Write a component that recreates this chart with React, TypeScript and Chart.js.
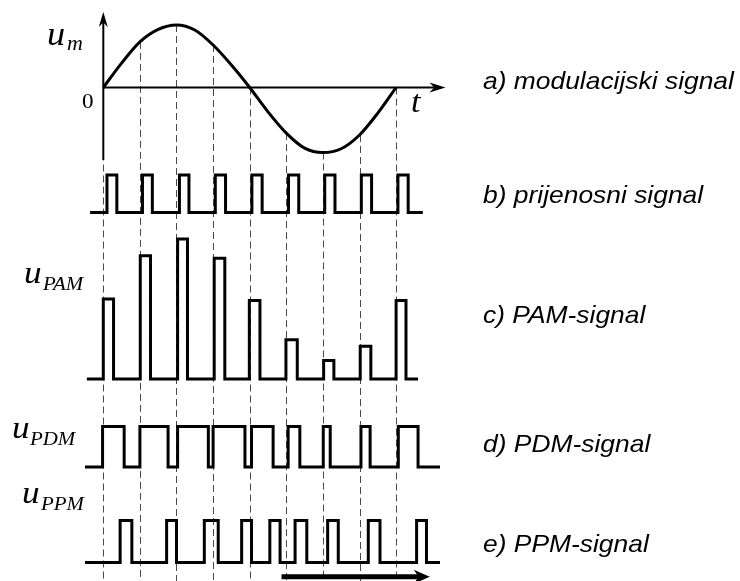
import { useEffect, useRef } from "react";
import { Chart, registerables } from "chart.js";

Chart.register(...registerables);

// ---------------- data (time in sampling periods, amplitudes in panel units) ----------------
const sampleTimes = [0, 1, 2, 3, 4, 5, 6, 7, 8];

const sineT = [0, 0.5, 1, 1.5, 2, 2.5, 3, 3.5, 4, 4.5, 5, 5.5, 6, 6.5, 7, 7.5, 8];
const sineV = [0, 0.39, 0.73, 0.93, 1.0, 0.92, 0.68, 0.36, 0, -0.39, -0.73, -0.97, -1.04, -0.98, -0.76, -0.41, 0];

const carrierRise = [0.1, 1.07, 2.08, 3.06, 4.06, 5.06, 6.05, 7.05, 8.05];
const carrierFall = [0.37, 1.34, 2.34, 3.34, 4.34, 5.34, 6.33, 7.33, 8.33];
const carrierSpan = [-0.36, 8.73];

const pamRise = [0.0, 1.01, 2.03, 3.03, 3.99, 4.99, 6.02, 7.02, 8.0];
const pamFall = [0.28, 1.29, 2.3, 3.32, 4.28, 5.3, 6.3, 7.31, 8.27];
const pamHeight = [1.0, 1.54, 1.75, 1.51, 0.98, 0.49, 0.23, 0.41, 0.98];
const pamSpan = [-0.45, 8.6];

const pdmRise = [-0.02, 1.0, 2.03, 3.0, 4.05, 5.05, 6.01, 7.04, 8.06];
const pdmFall = [0.57, 1.77, 2.87, 3.87, 4.64, 5.37, 6.2, 7.29, 8.6];
const pdmSpan = [-0.5, 9.2];

const ppmRise = [0.46, 1.73, 2.76, 3.78, 4.55, 5.24, 6.13, 7.24, 8.56];
const ppmFall = [0.78, 2.0, 3.14, 4.05, 4.83, 5.56, 6.42, 7.56, 8.83];
const ppmSpan = [-0.5, 9.2];

const rightLabels = ["a) modulacijski signal", "b) prijenosni signal", "c) PAM-signal", "d) PDM-signal", "e) PPM-signal"];

// ---------------- layout ----------------
const W = 740;
const H = 581;
const T0_PX = 103.3;
const PX_PER_T = 36.6;

const PANELS: Record<string, { zero: number; unit: number }> = {
  ySine: { zero: 87.5, unit: 62.5 },
  yCar: { zero: 212.5, unit: 37.5 },
  yPam: { zero: 379, unit: 80 },
  yPdm: { zero: 467, unit: 40.5 },
  yPpm: { zero: 562.5, unit: 42 },
};

const AXIS_TOP = 1.21;
const AXIS_BOTTOM = -1.16;
const T_AXIS_END = 9.35;
const ARROW_FROM = 4.87;
const ARROW_TO = 8.92;
const ARROW_LEVEL = -0.34;

function pulseTrain(rise: number[], fall: number[], heights: number[] | number, span: number[]) {
  const pts: { x: number; y: number }[] = [{ x: span[0], y: 0 }];
  rise.forEach((r, i) => {
    const h = Array.isArray(heights) ? heights[i] : heights;
    pts.push({ x: r, y: 0 }, { x: r, y: h }, { x: fall[i], y: h }, { x: fall[i], y: 0 });
  });
  pts.push({ x: span[1], y: 0 });
  return pts;
}

function axisRange(id: string) {
  const p = PANELS[id];
  return { min: (p.zero - H) / p.unit, max: p.zero / p.unit };
}

function drawText(ctx: CanvasRenderingContext2D, text: string, x: number, y: number, font: string, sx = 1.1) {
  ctx.save();
  ctx.font = font;
  ctx.fillStyle = "#000";
  ctx.textBaseline = "alphabetic";
  ctx.textAlign = "left";
  ctx.translate(x, y);
  ctx.scale(sx, 1);
  ctx.fillText(text, 0, 0);
  ctx.restore();
}

function arrowHead(ctx: CanvasRenderingContext2D, tipX: number, tipY: number, dx: number, dy: number, len: number, half: number) {
  const bx = tipX - dx * len;
  const by = tipY - dy * len;
  const nx = -dy;
  const ny = dx;
  ctx.beginPath();
  ctx.moveTo(tipX, tipY);
  ctx.lineTo(bx + nx * half, by + ny * half);
  ctx.lineTo(tipX - dx * len * 0.7, tipY - dy * len * 0.7);
  ctx.lineTo(bx - nx * half, by - ny * half);
  ctx.closePath();
  ctx.fill();
}

const diagramPlugin = {
  id: "diagram",
  beforeDatasetsDraw(chart: any) {
    const ctx: CanvasRenderingContext2D = chart.ctx;
    const xs = chart.scales.x;
    const ys = chart.scales.ySine;
    ctx.save();
    ctx.strokeStyle = "#4a4a4a";
    ctx.lineWidth = 1;
    ctx.setLineDash([7, 4]);
    sampleTimes.forEach((t) => {
      const idx = sineT.indexOf(t);
      const v = idx >= 0 ? sineV[idx] : 0;
      const x = Math.round(xs.getPixelForValue(t)) + 0.5;
      ctx.beginPath();
      ctx.moveTo(x, ys.getPixelForValue(v));
      ctx.lineTo(x, chart.chartArea.bottom);
      ctx.stroke();
    });
    ctx.restore();
  },
  afterDatasetsDraw(chart: any) {
    const ctx: CanvasRenderingContext2D = chart.ctx;
    const xs = chart.scales.x;
    const ys = chart.scales.ySine;
    const yp = chart.scales.yPpm;
    ctx.save();
    ctx.strokeStyle = "#000";
    ctx.fillStyle = "#000";
    ctx.lineWidth = 2;
    // vertical axis
    const x0 = xs.getPixelForValue(0);
    const yTop = ys.getPixelForValue(AXIS_TOP);
    ctx.beginPath();
    ctx.moveTo(x0, ys.getPixelForValue(AXIS_BOTTOM));
    ctx.lineTo(x0, yTop + 8);
    ctx.stroke();
    arrowHead(ctx, x0, yTop, 0, -1, 15, 4.5);
    // horizontal axis
    const y0 = ys.getPixelForValue(0);
    const xEnd = xs.getPixelForValue(T_AXIS_END);
    ctx.beginPath();
    ctx.moveTo(x0, y0);
    ctx.lineTo(xEnd - 8, y0);
    ctx.stroke();
    arrowHead(ctx, xEnd, y0, 1, 0, 16, 5);
    // bottom arrow
    const ay = yp.getPixelForValue(ARROW_LEVEL);
    const ax1 = xs.getPixelForValue(ARROW_FROM);
    const ax2 = xs.getPixelForValue(ARROW_TO);
    ctx.lineWidth = 5;
    ctx.beginPath();
    ctx.moveTo(ax1, ay);
    ctx.lineTo(ax2 - 10, ay);
    ctx.stroke();
    arrowHead(ctx, ax2, ay, 1, 0, 16, 7);
    ctx.restore();

    // texts
    const serifI = (s: number) => `italic ${s}px "Liberation Serif", "Times New Roman", serif`;
    const sansI = `italic 24px "Liberation Sans", Arial, sans-serif`;
    drawText(ctx, "u", 47, 45, serifI(33));
    drawText(ctx, "m", 67, 50, serifI(20));
    drawText(ctx, "0", 82, 108, `22px "Liberation Serif", "Times New Roman", serif`, 1.05);
    drawText(ctx, "t", 411, 112, serifI(31));
    drawText(ctx, "u", 24, 283, serifI(32));
    drawText(ctx, "PAM", 43, 290, serifI(19));
    drawText(ctx, "u", 12, 438, serifI(32));
    drawText(ctx, "PDM", 30, 445, serifI(19));
    drawText(ctx, "u", 22, 503, serifI(32));
    drawText(ctx, "PPM", 41, 510, serifI(19));
    const baselines = [89, 203, 323, 452, 552];
    rightLabels.forEach((txt, i) => drawText(ctx, txt, 483, baselines[i], sansI, 1.1));
  },
};

export default function App() {
  const ref = useRef<HTMLCanvasElement | null>(null);

  useEffect(() => {
    if (!ref.current) return;
    const lineStyle = {
      borderColor: "#000",
      borderWidth: 3,
      pointRadius: 0,
      tension: 0,
      fill: false,
      borderJoinStyle: "miter" as const,
      borderCapStyle: "butt" as const,
    };
    const yScale = (id: string) => ({ type: "linear" as const, display: false, ...axisRange(id) });
    const chart = new Chart(ref.current, {
      type: "line",
      data: {
        datasets: [
          {
            label: "modulacijski signal",
            data: sineT.map((t, i) => ({ x: t, y: sineV[i] })),
            yAxisID: "ySine",
            ...lineStyle,
            cubicInterpolationMode: "monotone",
          },
          { label: "prijenosni signal", data: pulseTrain(carrierRise, carrierFall, 1, carrierSpan), yAxisID: "yCar", ...lineStyle },
          { label: "PAM", data: pulseTrain(pamRise, pamFall, pamHeight, pamSpan), yAxisID: "yPam", ...lineStyle },
          { label: "PDM", data: pulseTrain(pdmRise, pdmFall, 1, pdmSpan), yAxisID: "yPdm", ...lineStyle },
          { label: "PPM", data: pulseTrain(ppmRise, ppmFall, 1, ppmSpan), yAxisID: "yPpm", ...lineStyle },
        ] as any,
      },
      options: {
        animation: false,
        responsive: false,
        devicePixelRatio: 1,
        events: [],
        layout: { padding: 0 },
        plugins: { legend: { display: false }, tooltip: { enabled: false }, title: { display: false } },
        scales: {
          x: { type: "linear", display: false, min: -T0_PX / PX_PER_T, max: (W - T0_PX) / PX_PER_T },
          ySine: yScale("ySine"),
          yCar: yScale("yCar"),
          yPam: yScale("yPam"),
          yPdm: yScale("yPdm"),
          yPpm: yScale("yPpm"),
        } as any,
      },
      plugins: [diagramPlugin],
    });
    return () => chart.destroy();
  }, []);

  return (
    <div style={{ position: "absolute", left: 0, top: 0, width: W, height: H, background: "#fff" }}>
      <canvas ref={ref} width={W} height={H} style={{ display: "block", width: W, height: H }} />
    </div>
  );
}
